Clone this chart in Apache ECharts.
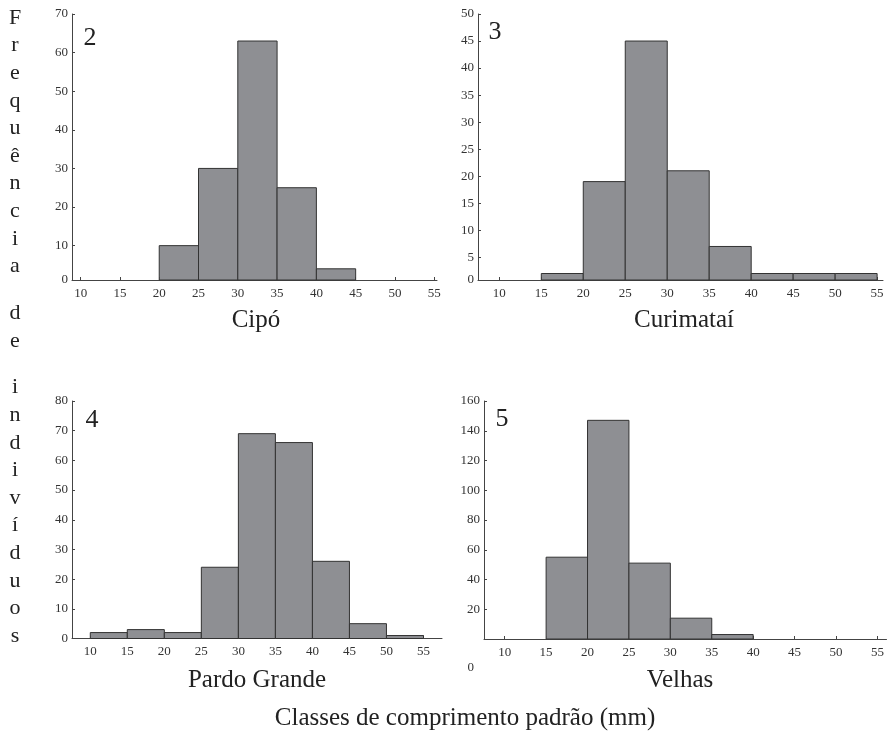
<!DOCTYPE html>
<html>
<head>
<meta charset="utf-8">
<title>Classes de comprimento padrão</title>
<script src="https://cdn.jsdelivr.net/npm/echarts@6.0.0/dist/echarts.min.js"></script>
<style>
    body { margin: 0; background: #fff; }
    #main { width: 890px; height: 736px; }
</style>
</head>
<body>
<div id="main"></div>
<script>
// classes de 5 mm (inicio de cada classe)
var binStarts = [10, 15, 20, 25, 30, 35, 40, 45, 50];
var binSize = 5;
var xTicks = [10, 15, 20, 25, 30, 35, 40, 45, 50, 55];

// frequencia por classe
var cipo = [0, 0, 10, 30, 63, 25, 4, 0, 0];
var curimatai = [0, 2, 19, 45, 21, 7, 2, 2, 2];
var pardoGrande = [2, 3, 2, 24, 69, 66, 26, 5, 1];
var velhas = [0, 55, 147, 51, 14, 3, 0, 0, 0];

var yTicksCipo = [10, 20, 30, 40, 50, 60, 70];
var yTicksCurimatai = [5, 10, 15, 20, 25, 30, 35, 40, 45, 50];
var yTicksPardo = [0, 10, 20, 30, 40, 50, 60, 70, 80];
var yTicksVelhas = [0, 20, 40, 60, 80, 100, 120, 140, 160];

var siteNames = ['Cipó', 'Curimataí', 'Pardo Grande', 'Velhas'];
var panelNumbers = ['2', '3', '4', '5'];
var yTitle = 'Frequência de indivíduos';
var xTitle = 'Classes de comprimento padrão (mm)';

var serif = '"Liberation Serif", "DejaVu Serif", serif';

function histData(counts) {
    var d = [];
    for (var i = 0; i < binStarts.length; i++) {
        d.push([binStarts[i], binStarts[i] + binSize, counts[i]]);
    }
    return d;
}

function renderHist(params, api) {
    var h = api.value(2);
    if (!h) return null;
    var p0 = api.coord([api.value(0), 0]);
    var p1 = api.coord([api.value(1), h]);
    var cs = params.coordSys;
    var shape = echarts.graphic.clipRectByRect({
        x: p0[0],
        y: p1[1],
        width: p1[0] - p0[0],
        height: p0[1] - p1[1]
    }, { x: cs.x, y: cs.y, width: cs.width, height: cs.height });
    return shape && {
        type: 'rect',
        shape: shape,
        style: { fill: '#8e8f93', stroke: '#333', lineWidth: 1 }
    };
}

var axisLineStyle = { show: true, lineStyle: { color: '#444', width: 1 } };
var tickStyle = { show: true, inside: true, length: 3, lineStyle: { color: '#444' } };
var labelStyle = { fontFamily: serif, fontSize: 13, color: '#333' };

function xAxisFor(idx, min, max) {
    return {
        type: 'value', gridIndex: idx, min: min, max: max,
        splitLine: { show: false },
        axisLine: axisLineStyle,
        axisTick: Object.assign({ customValues: xTicks }, tickStyle),
        axisLabel: Object.assign({ customValues: xTicks, margin: 7 }, labelStyle)
    };
}

function yAxisFor(idx, min, max, ticks, zeroLow) {
    var vals = ticks.slice();
    if (min > 0) vals.unshift(min);
    return {
        type: 'value', gridIndex: idx, min: min, max: max,
        splitLine: { show: false },
        axisLine: axisLineStyle,
        axisTick: Object.assign({ customValues: vals }, tickStyle),
        axisLabel: Object.assign({
            customValues: vals,
            margin: 4,
            formatter: function (v) {
                if (v < 2) return zeroLow ? '{z|0}' : '0';
                return String(v);
            },
            rich: { z: Object.assign({ padding: [58, 6, 0, 0] }, labelStyle) }
        }, labelStyle)
    };
}

var grids = [
    { left: 72, top: 14, width: 365, height: 266 },
    { left: 478, top: 14, width: 405, height: 266 },
    { left: 72, top: 401, width: 370, height: 237.5 },
    { left: 484, top: 401, width: 402.5, height: 238 }
];

var series = [cipo, curimatai, pardoGrande, velhas].map(function (c, i) {
    return {
        type: 'custom',
        xAxisIndex: i,
        yAxisIndex: i,
        renderItem: renderHist,
        encode: { x: [0, 1], y: 2 },
        data: histData(c)
    };
});

// textos: numero do painel e nome do rio
var graphics = [];
var numPos = [[90, 38], [495, 32], [92, 420], [502, 419]];
var namePos = [[256, 320], [684, 320], [257, 680], [680, 680]];
for (var i = 0; i < 4; i++) {
    graphics.push({
        type: 'text', x: numPos[i][0], y: numPos[i][1],
        style: { text: panelNumbers[i], font: '26px ' + serif, fill: '#222', align: 'center', verticalAlign: 'middle' }
    });
    graphics.push({
        type: 'text', x: namePos[i][0], y: namePos[i][1],
        style: { text: siteNames[i], font: '25px ' + serif, fill: '#222', align: 'center', verticalAlign: 'middle' }
    });
}
graphics.push({
    type: 'text', x: 465, y: 718,
    style: { text: xTitle, font: '25px ' + serif, fill: '#222', align: 'center', verticalAlign: 'middle' }
});

// titulo do eixo y, uma letra por linha
var ly = 18, step = 27.6, gap = 46.8;
var chars = yTitle.split('');
for (var k = 0; k < chars.length; k++) {
    if (chars[k] === ' ') { ly += gap - step; continue; }
    graphics.push({
        type: 'text', x: 15, y: ly,
        style: { text: chars[k], font: '22px ' + serif, fill: '#222', align: 'center', verticalAlign: 'middle' }
    });
    ly += step;
}

var myChart = echarts.init(document.getElementById('main'));
var option = {
    backgroundColor: '#fff',
    animation: false,
    grid: grids,
    xAxis: [
        xAxisFor(0, 8.9, 55.35),
        xAxisFor(1, 7.46, 55.7),
        xAxisFor(2, 7.53, 57.5),
        xAxisFor(3, 7.5, 56.1)
    ],
    yAxis: [
        yAxisFor(0, 1.1, 70, yTicksCipo, false),
        yAxisFor(1, 0.8, 50, yTicksCurimatai, false),
        yAxisFor(2, 0, 80, yTicksPardo, false),
        yAxisFor(3, 0, 160, yTicksVelhas, true)
    ],
    series: series,
    graphic: graphics
};
myChart.setOption(option);
</script>
</body>
</html>
